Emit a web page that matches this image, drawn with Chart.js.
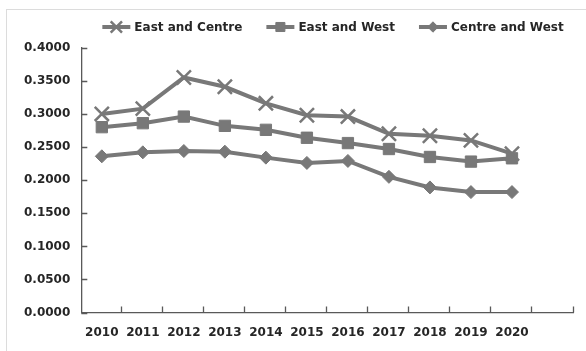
<!DOCTYPE html>
<html>
<head>
<meta charset="utf-8">
<script src="https://cdn.jsdelivr.net/npm/chart.js@4/dist/chart.umd.min.js"></script>
<style>
  html, body { margin: 0; padding: 0; background: #ffffff; }
  #wrap { width: 586px; height: 351px; position: relative; }
</style>
</head>
<body>
<div id="wrap"><canvas id="chart" width="586" height="351"></canvas></div>
<script>
// Years on the category axis (one spare slot is appended after 2020)
const years = ['2010', '2011', '2012', '2013', '2014', '2015', '2016', '2017', '2018', '2019', '2020'];

// Regional difference indices
const eastCentre = [0.300, 0.308, 0.355, 0.341, 0.316, 0.298, 0.296, 0.270, 0.267, 0.260, 0.240];
const eastWest   = [0.280, 0.286, 0.296, 0.282, 0.276, 0.264, 0.256, 0.247, 0.235, 0.228, 0.233];
const centreWest = [0.236, 0.242, 0.244, 0.243, 0.234, 0.226, 0.229, 0.205, 0.189, 0.182, 0.182];

// Y axis ticks
const yTicks = [0, 0.05, 0.10, 0.15, 0.20, 0.25, 0.30, 0.35, 0.40];

const GREY = '#787878';
const AXIS = '#595959';
const TEXT = '#262626';
const FONT = 'bold 12px "DejaVu Sans"';

// Light frame around the whole figure
const framePlugin = {
  id: 'frame',
  beforeDraw(chart) {
    const ctx = chart.ctx;
    ctx.save();
    ctx.fillStyle = '#ffffff';
    ctx.fillRect(0, 0, chart.width, chart.height);
    ctx.strokeStyle = '#dcdcdc';
    ctx.lineWidth = 1;
    ctx.strokeRect(6.5, 9.5, chart.width + 10, chart.height + 10);
    ctx.restore();
  }
};

// Short tick marks pointing into the plot area
const innerTicksPlugin = {
  id: 'innerTicks',
  afterDraw(chart) {
    const ctx = chart.ctx;
    const xs = chart.scales.x;
    const ys = chart.scales.y;
    ctx.save();
    ctx.strokeStyle = AXIS;
    ctx.lineWidth = 1.3;
    ctx.beginPath();
    yTicks.forEach(v => {
      const y = Math.round(ys.getPixelForValue(v)) + 0.5;
      ctx.moveTo(xs.left, y);
      ctx.lineTo(xs.left + 6, y);
    });
    const n = xs.getLabels().length;
    for (let i = 1; i <= n; i++) {
      const x = Math.round(xs.getPixelForDecimal(i / n)) - 0.5;
      ctx.moveTo(x, ys.bottom);
      ctx.lineTo(x, ys.bottom - 6);
    }
    ctx.stroke();
    ctx.restore();
  }
};

// Legend: line segment with the series marker, followed by its label
const lineLegendPlugin = {
  id: 'lineLegend',
  afterDraw(chart) {
    const ctx = chart.ctx;
    const sets = chart.data.datasets;
    const lineLen = 28, textGap = 4, itemGap = 24, y = 27;
    ctx.save();
    ctx.font = FONT;
    const widths = sets.map(d => lineLen + textGap + ctx.measureText(d.label).width);
    const total = widths.reduce((a, b) => a + b, 0) + itemGap * (sets.length - 1);
    let x = 333 - total / 2;
    sets.forEach((d, i) => {
      ctx.strokeStyle = d.borderColor;
      ctx.lineWidth = d.borderWidth;
      ctx.beginPath();
      ctx.moveTo(x, y);
      ctx.lineTo(x + lineLen, y);
      ctx.stroke();
      ctx.fillStyle = d.pointBackgroundColor;
      ctx.strokeStyle = d.pointBorderColor;
      ctx.lineWidth = d.pointBorderWidth;
      Chart.helpers.drawPoint(ctx, {
        pointStyle: d.pointStyle,
        radius: d.pointRadius * 0.8,
        rotation: 0,
        borderWidth: d.pointBorderWidth
      }, x + lineLen / 2, y);
      ctx.fillStyle = TEXT;
      ctx.textBaseline = 'middle';
      ctx.textAlign = 'left';
      ctx.fillText(d.label, x + lineLen + textGap, y + 1);
      x += widths[i] + itemGap;
    });
    ctx.restore();
  }
};

function series(label, data, style, radius, borderWidth) {
  return {
    label,
    data,
    borderColor: GREY,
    backgroundColor: GREY,
    borderWidth: 4,
    pointStyle: style,
    pointRadius: radius,
    pointHoverRadius: radius,
    pointBackgroundColor: GREY,
    pointBorderColor: GREY,
    pointBorderWidth: borderWidth,
    tension: 0,
    fill: false
  };
}

new Chart(document.getElementById('chart'), {
  type: 'line',
  data: {
    labels: years.concat(['']),
    datasets: [
      series('East and Centre', eastCentre, 'crossRot', 10, 2.5),
      series('East and West', eastWest, 'rect', 8, 1),
      series('Centre and West', centreWest, 'rectRot', 6.5, 1)
    ]
  },
  options: {
    responsive: false,
    animation: false,
    devicePixelRatio: 1,
    layout: { padding: { top: 47.7, right: 5.5, bottom: -2, left: 13 } },
    plugins: {
      legend: { display: false },
      tooltip: { enabled: false }
    },
    scales: {
      x: {
        type: 'category',
        offset: true,
        grid: { display: false, drawTicks: false },
        border: { display: true, color: AXIS, width: 1.3 },
        ticks: {
          color: TEXT,
          font: { family: 'DejaVu Sans', size: 12, weight: 'bold' },
          padding: 13,
          maxRotation: 0,
          autoSkip: false
        }
      },
      y: {
        min: 0,
        max: 0.4,
        afterBuildTicks(scale) { scale.ticks = yTicks.map(v => ({ value: v })); },
        grid: { display: false, drawTicks: false },
        border: { display: true, color: AXIS, width: 1.3 },
        ticks: {
          color: TEXT,
          font: { family: 'DejaVu Sans', size: 12, weight: 'bold' },
          padding: 11,
          callback: v => Number(v).toFixed(4)
        }
      }
    }
  },
  plugins: [framePlugin, innerTicksPlugin, lineLegendPlugin]
});
</script>
</body>
</html>
